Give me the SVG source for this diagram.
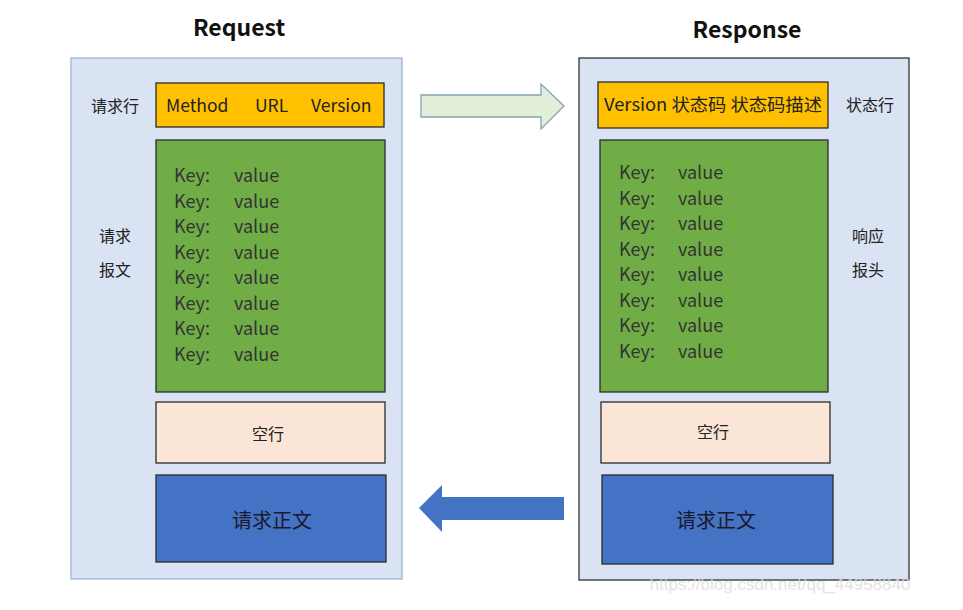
<svg xmlns="http://www.w3.org/2000/svg" width="963" height="610" viewBox="0 0 963 610">
<style>
text{font-family:"Noto Sans CJK SC","Noto Sans",sans-serif;fill:#222}
.title{font-size:23px;font-weight:bold;fill:#111}
.lbl{font-size:16px}
.kv{font-size:18px;fill:#333}
.row{font-size:17.5px}
.box{stroke:#2b2b2b;stroke-width:1.3}
</style>
<rect width="963" height="610" fill="#ffffff"/>
<g id="request">
<text class="title" x="239" y="36" text-anchor="middle">Request</text>
<rect x="71" y="58" width="331" height="521" fill="#dae3f3" stroke="#9fb3d6" stroke-width="1.3"/>
</g>
<g id="response">
<text class="title" x="747" y="38" text-anchor="middle">Response</text>
<rect x="579" y="58" width="330" height="522" fill="#dae3f3" stroke="#333" stroke-width="1.3"/>
</g>
<g id="req-line">
<text class="lbl" x="115" y="112" text-anchor="middle">请求行</text>
<rect class="box" x="156" y="83" width="228" height="44" fill="#ffc000"/>
<text class="row" x="166" y="112">Method</text>
<text class="row" x="255" y="112">URL</text>
<text class="row" x="311" y="112">Version</text>
</g>
<g id="req-headers">
<text class="lbl" x="115" y="242" text-anchor="middle">请求</text>
<text class="lbl" x="115" y="276" text-anchor="middle">报文</text>
<rect class="box" x="156" y="140" width="229" height="252" fill="#70ad47"/>
<text class="kv" x="174" y="182">Key:</text><text class="kv" x="234" y="182">value</text>
<text class="kv" x="174" y="207.5">Key:</text><text class="kv" x="234" y="207.5">value</text>
<text class="kv" x="174" y="233">Key:</text><text class="kv" x="234" y="233">value</text>
<text class="kv" x="174" y="258.5">Key:</text><text class="kv" x="234" y="258.5">value</text>
<text class="kv" x="174" y="284">Key:</text><text class="kv" x="234" y="284">value</text>
<text class="kv" x="174" y="309.5">Key:</text><text class="kv" x="234" y="309.5">value</text>
<text class="kv" x="174" y="335">Key:</text><text class="kv" x="234" y="335">value</text>
<text class="kv" x="174" y="360.5">Key:</text><text class="kv" x="234" y="360.5">value</text>
</g>
<g id="req-blank">
<rect class="box" x="156" y="402" width="229" height="61" fill="#fbe5d6"/>
<text class="lbl" x="268" y="440" text-anchor="middle">空行</text>
</g>
<g id="req-body">
<rect class="box" x="156" y="475" width="230" height="87" fill="#4472c4"/>
<text x="272" y="528" text-anchor="middle" style="font-size:20px;fill:#1a1a2a">请求正文</text>
</g>
<g id="resp-line">
<rect class="box" x="598" y="82" width="230" height="46" fill="#ffc000"/>
<text class="row" x="713" y="111" text-anchor="middle" textLength="218" lengthAdjust="spacingAndGlyphs">Version 状态码 状态码描述</text>
<text class="lbl" x="870" y="111" text-anchor="middle">状态行</text>
</g>
<g id="resp-headers">
<text class="lbl" x="868" y="242" text-anchor="middle">响应</text>
<text class="lbl" x="868" y="276" text-anchor="middle">报头</text>
<rect class="box" x="600" y="140" width="228" height="252" fill="#70ad47"/>
<text class="kv" x="619" y="179">Key:</text><text class="kv" x="678" y="179">value</text>
<text class="kv" x="619" y="204.5">Key:</text><text class="kv" x="678" y="204.5">value</text>
<text class="kv" x="619" y="230">Key:</text><text class="kv" x="678" y="230">value</text>
<text class="kv" x="619" y="255.5">Key:</text><text class="kv" x="678" y="255.5">value</text>
<text class="kv" x="619" y="281">Key:</text><text class="kv" x="678" y="281">value</text>
<text class="kv" x="619" y="306.5">Key:</text><text class="kv" x="678" y="306.5">value</text>
<text class="kv" x="619" y="332">Key:</text><text class="kv" x="678" y="332">value</text>
<text class="kv" x="619" y="357.5">Key:</text><text class="kv" x="678" y="357.5">value</text>
</g>
<g id="resp-blank">
<rect class="box" x="601" y="402" width="229" height="61" fill="#fbe5d6"/>
<text class="lbl" x="713" y="438" text-anchor="middle">空行</text>
</g>
<g id="resp-body">
<rect class="box" x="602" y="475" width="231" height="89" fill="#4472c4"/>
<text x="716" y="528" text-anchor="middle" style="font-size:20px;fill:#1a1a2a">请求正文</text>
</g>
<g id="connectors">
<polygon points="421,95 541,95 541,84 564,106 541,129 541,117 421,117" fill="#e2f0d9" stroke="#8aa0b4" stroke-width="1.3"/>
<polygon points="419,508 442,485 442,497 564,497 564,520 442,520 442,532" fill="#4472c4"/>
</g>
<text x="780" y="590" text-anchor="middle" style="font-family:'Liberation Sans',sans-serif;font-size:17px;fill:#dddddd" opacity="0.8">https://blog.csdn.net/qq_44958840</text>
</svg>
